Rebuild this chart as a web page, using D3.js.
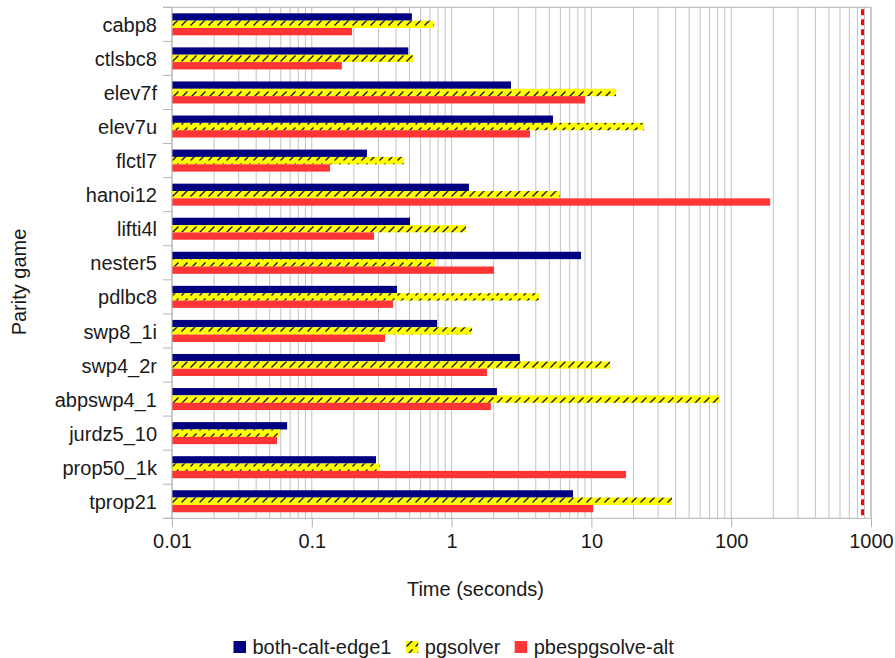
<!DOCTYPE html>
<html>
<head>
<meta charset="utf-8">
<script src="https://cdn.jsdelivr.net/npm/d3@7"></script>
<style>
  body { margin: 0; background: #fff; }
  svg { display: block; font-family: "Liberation Sans", Arial, sans-serif; }
</style>
</head>
<body>
<svg id="chart" width="895" height="658"></svg>
<script>
// parity games, top to bottom
var games = ["cabp8", "ctlsbc8", "elev7f", "elev7u", "flctl7", "hanoi12", "lifti4l", "nester5",
  "pdlbc8", "swp8_1i", "swp4_2r", "abpswp4_1", "jurdz5_10", "prop50_1k", "tprop21"];
var seriesNames = ["both-calt-edge1", "pgsolver", "pbespgsolve-alt"];
// time in seconds
var bothCaltEdge1 = [0.52, 0.49, 2.66, 5.31, 0.248, 1.33, 0.504, 8.43, 0.407, 0.787, 3.08, 2.11, 0.0666, 0.288, 7.39];
var pgsolver = [0.75, 0.53, 15.0, 23.8, 0.457, 5.96, 1.27, 0.76, 4.22, 1.40, 13.6, 83.2, 0.0593, 0.307, 37.7];
var pbespgsolveAlt = [0.194, 0.164, 9.0, 3.64, 0.135, 190, 0.279, 2.01, 0.381, 0.334, 1.79, 1.91, 0.0564, 17.7, 10.3];
var timeout = 870;
var xTicks = [0.01, 0.1, 1, 10, 100, 1000];

var svg = d3.select("#chart");
var plotLeft = 172, plotRight = 871, plotTop = 7.3, plotBottom = 518.3;
var textColor = "#1a1a1a", axisColor = "#b3b3b3";

var x = d3.scaleLog().domain([0.01, 1000]).range([plotLeft, plotRight]);
var y = d3.scaleBand().domain(games).range([plotTop, plotBottom]);
var ySub = d3.scaleBand().domain(seriesNames).range([0, y.bandwidth()]).paddingOuter(0.82);

// hatch for pgsolver
var defs = svg.append("defs");
var pat = defs.append("pattern")
  .attr("id", "hatch")
  .attr("patternUnits", "userSpaceOnUse")
  .attr("width", 9).attr("height", 9);
pat.append("rect").attr("width", 9).attr("height", 9).attr("fill", "#ffff00");
pat.append("path")
  .attr("d", "M1.5,7.5 L7.5,1.5")
  .attr("stroke", "#111").attr("stroke-width", 1.2);

var fills = { "both-calt-edge1": "#000080", "pgsolver": "url(#hatch)", "pbespgsolve-alt": "#ff3535" };

// grid lines (log minor + major)
svg.append("g")
  .selectAll("line")
  .data(x.ticks())
  .enter()
  .append("line")
  .attr("x1", d => x(d)).attr("x2", d => x(d))
  .attr("y1", plotTop).attr("y2", plotBottom)
  .attr("stroke", "#c2c2c2")
  .attr("stroke-width", 1);

// bars
var rows = [];
games.forEach(function (g, i) {
  rows.push({ game: g, series: "both-calt-edge1", value: bothCaltEdge1[i] });
  rows.push({ game: g, series: "pgsolver", value: pgsolver[i] });
  rows.push({ game: g, series: "pbespgsolve-alt", value: pbespgsolveAlt[i] });
});

svg.append("g")
  .selectAll("rect")
  .data(rows)
  .enter()
  .append("rect")
  .attr("x", x(0.01))
  .attr("y", d => y(d.game) + ySub(d.series))
  .attr("width", d => x(d.value) - x(0.01))
  .attr("height", ySub.bandwidth())
  .attr("fill", d => fills[d.series]);

// frame: top and right border
svg.append("line")
  .attr("x1", plotLeft - 9).attr("x2", plotRight).attr("y1", plotTop).attr("y2", plotTop)
  .attr("stroke", axisColor);
svg.append("line")
  .attr("x1", plotRight).attr("x2", plotRight).attr("y1", plotTop).attr("y2", plotBottom)
  .attr("stroke", axisColor);

// timeout line
svg.append("line")
  .attr("x1", x(timeout)).attr("x2", x(timeout))
  .attr("y1", plotTop + 2).attr("y2", plotBottom)
  .attr("stroke", "#ff0000")
  .attr("stroke-width", 3)
  .attr("stroke-dasharray", "6,4");

// left axis: boundary ticks + labels
var bounds = games.map(g => y(g)).concat([plotBottom]);
svg.append("g")
  .selectAll("line")
  .data(bounds)
  .enter()
  .append("line")
  .attr("x1", plotLeft - 9).attr("x2", plotLeft)
  .attr("y1", d => d).attr("y2", d => d)
  .attr("stroke", axisColor);
svg.append("line")
  .attr("x1", plotLeft).attr("x2", plotLeft).attr("y1", plotTop).attr("y2", plotBottom)
  .attr("stroke", axisColor);

var yAxis = svg.append("g")
  .attr("transform", "translate(" + plotLeft + ",0)")
  .call(d3.axisLeft(y).tickSize(0).tickPadding(15));
yAxis.select(".domain").remove();
yAxis.selectAll("text")
  .attr("font-size", 20)
  .attr("font-family", "Liberation Sans, Arial, sans-serif")
  .attr("fill", textColor)
  .attr("dy", "0.38em");

// bottom axis
svg.append("line")
  .attr("x1", plotLeft - 9).attr("x2", plotRight).attr("y1", plotBottom).attr("y2", plotBottom)
  .attr("stroke", axisColor);
var xAxis = svg.append("g")
  .attr("transform", "translate(0," + plotBottom + ")")
  .call(d3.axisBottom(x).tickValues(xTicks).tickSize(9).tickPadding(10)
    .tickFormat(d3.format("~g")));
xAxis.select(".domain").remove();
xAxis.selectAll("line").attr("stroke", axisColor);
xAxis.selectAll("text")
  .attr("font-size", 20)
  .attr("font-family", "Liberation Sans, Arial, sans-serif")
  .attr("fill", textColor)
  .attr("dy", "0.55em");

// axis titles
svg.append("text")
  .attr("x", 475.5).attr("y", 596)
  .attr("text-anchor", "middle")
  .attr("font-size", 20)
  .attr("fill", textColor)
  .text("Time (seconds)");
svg.append("text")
  .attr("transform", "translate(26,282) rotate(-90)")
  .attr("text-anchor", "middle")
  .attr("font-size", 20)
  .attr("fill", textColor)
  .text("Parity game");

// legend
var lx = 233.5;
seriesNames.forEach(function (s) {
  svg.append("rect")
    .attr("x", lx).attr("y", 641)
    .attr("width", 12.5).attr("height", 12)
    .attr("fill", fills[s]);
  var t = svg.append("text")
    .attr("x", lx + 19).attr("y", 653.5)
    .attr("font-size", 20)
    .attr("fill", textColor)
    .text(s);
  lx = lx + 19 + t.node().getComputedTextLength() + 14.3;
});
</script>
</body>
</html>
